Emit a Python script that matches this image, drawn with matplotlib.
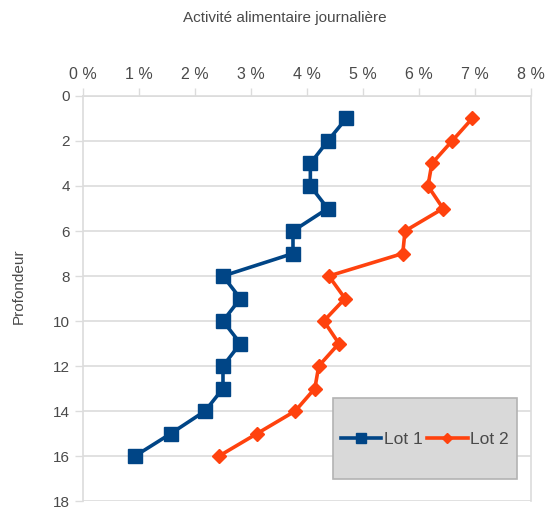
import matplotlib
matplotlib.use("Agg")
import matplotlib.pyplot as plt
from matplotlib.patches import Rectangle

plt.rcParams['font.family'] = ['Liberation Sans', 'DejaVu Sans']

depth = [1, 2, 3, 4, 5, 6, 7, 8, 9, 10, 11, 12, 13, 14, 15, 16]
lot1 = [4.70, 4.37, 4.06, 4.06, 4.37, 3.75, 3.75, 2.50, 2.81, 2.50, 2.81, 2.50, 2.50, 2.18, 1.57, 0.93]
lot2 = [6.95, 6.59, 6.23, 6.16, 6.43, 5.75, 5.71, 4.39, 4.68, 4.30, 4.57, 4.21, 4.14, 3.79, 3.11, 2.43]
x_ticks = [0, 1, 2, 3, 4, 5, 6, 7, 8]
x_labels = ['0 %', '1 %', '2 %', '3 %', '4 %', '5 %', '6 %', '7 %', '8 %']
y_ticks = [0, 2, 4, 6, 8, 10, 12, 14, 16, 18]

fig = plt.figure(figsize=(5.51, 5.09), dpi=100)
ax = fig.add_axes([0.1506, 0.0157, 0.8131, 0.7957])

txt = '#4a4a4a'
grid = '#dcdcdc'

ax.plot(lot1, depth, color='#004586', lw=2.6, marker='s', ms=10, label='Lot 1', zorder=3)
ax.plot(lot2, depth, color='#ff420e', lw=2.6, marker='D', ms=7.5, label='Lot 2', zorder=3)

ax.set_xlim(0, 8)
ax.set_ylim(18, 0)
ax.set_xticks(x_ticks)
ax.set_xticklabels(x_labels)
ax.set_yticks(y_ticks)
ax.xaxis.tick_top()
ax.tick_params(axis='both', colors=grid, labelcolor=txt, length=6, width=1)
ax.tick_params(axis='x', labelsize=11.5, pad=4)
ax.tick_params(axis='y', labelsize=11)
ax.yaxis.grid(True, color=grid, lw=1.2)
ax.xaxis.grid(False)
for s in ['left', 'right', 'top', 'bottom']:
    ax.spines[s].set_color(grid)
    ax.spines[s].set_linewidth(1.2)
ax.spines['bottom'].set_visible(False)

fig.text(0.517, 0.964, 'Activité alimentaire journalière', ha='center', va='center',
         color=txt, fontsize=11)
ax.set_ylabel('Profondeur', color=txt, fontsize=11)
ax.yaxis.set_label_coords(-0.127, 0.53)

box = Rectangle((0.558, 0.054), 0.411, 0.2, transform=ax.transAxes,
                facecolor='#d9d9d9', edgecolor='#b3b3b3', lw=1.2, zorder=4)
ax.add_patch(box)
leg = ax.legend(loc='center', bbox_to_anchor=(0.763, 0.152), ncol=2, frameon=False,
                fontsize=12.5, handlelength=2.35, columnspacing=0.25, handletextpad=0.15,
                markerscale=0.7, borderaxespad=0)
leg.set_zorder(5)
for t in leg.get_texts():
    t.set_color(txt)

fig.savefig('out.png', dpi=100)
